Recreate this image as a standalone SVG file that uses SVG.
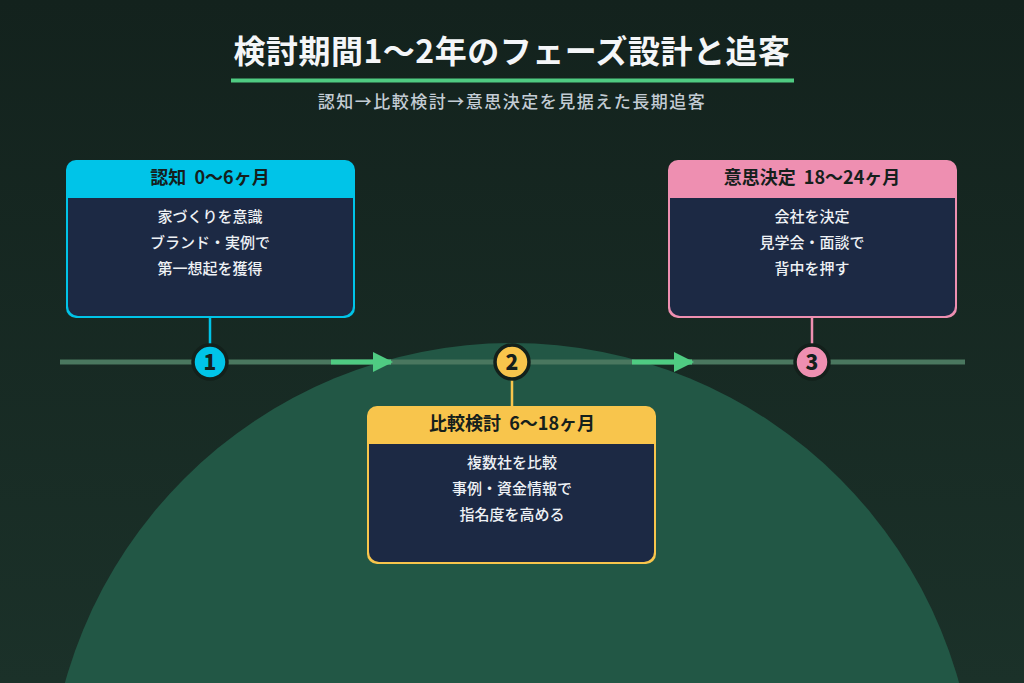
<svg xmlns="http://www.w3.org/2000/svg" width="1024" height="683" viewBox="0 0 1024 683">
<defs>
<linearGradient id="bg" x1="0" y1="0" x2="0" y2="1">
<stop offset="0" stop-color="#13221d"/>
<stop offset="1" stop-color="#1b3129"/>
</linearGradient>
<marker id="ah" viewBox="0 0 10 10" refX="9" refY="5" markerWidth="4" markerHeight="5" markerUnits="strokeWidth" orient="auto">
<path d="M0,0 L10,5 L0,10 Z" fill="#4fcb82"/>
</marker>
<style>
text{white-space:pre}
.title{font-family:"Noto Sans CJK JP","Noto Sans",sans-serif;font-weight:700;font-size:32px;letter-spacing:0.5px;fill:#f4f6f8;text-anchor:middle}
.sub{font-family:"Noto Sans CJK JP","Noto Sans",sans-serif;font-weight:500;font-size:17px;letter-spacing:1.5px;fill:#c3ccd4;text-anchor:middle}
.body{fill:#1c2944}
.head{font-family:"Noto Sans CJK JP","Noto Sans",sans-serif;font-weight:700;font-size:18px;fill:#15201c;text-anchor:middle}
.line{font-family:"Noto Sans CJK JP","Noto Sans",sans-serif;font-weight:500;font-size:15px;fill:#eef1f5;text-anchor:middle}
.num{font-family:"Noto Sans CJK JP","Noto Sans",sans-serif;font-weight:900;font-size:21px;fill:#15201c;text-anchor:middle}
.dot{stroke:#13201b;stroke-width:3.5}
</style>
</defs>
<rect width="1024" height="683" fill="url(#bg)"/>
<circle cx="512" cy="807" r="464" fill="#225745"/>

<text class="title" x="512" y="63" xml:space="preserve">検討期間1〜2年のフェーズ設計と追客</text>
<rect x="231" y="78.5" width="563" height="4" fill="#4fcb82"/>
<text class="sub" x="512" y="108">認知→比較検討→意思決定を見据えた長期追客</text>

<g id="connectors">
<line x1="60" y1="362" x2="965" y2="362" stroke="#4a775f" stroke-width="5"/>
<line x1="331" y1="362" x2="391" y2="362" stroke="#4fcb82" stroke-width="5" marker-end="url(#ah)"/>
<line x1="632" y1="362" x2="692" y2="362" stroke="#4fcb82" stroke-width="5" marker-end="url(#ah)"/>
<line x1="210" y1="318" x2="210" y2="346" stroke="#00c4e8" stroke-width="2.5"/>
<line x1="512" y1="378" x2="512" y2="406" stroke="#f8c54c" stroke-width="2.5"/>
<line x1="812" y1="318" x2="812" y2="346" stroke="#ee8fb1" stroke-width="2.5"/>
</g>

<g id="marker1">
<circle class="dot" cx="210" cy="362" r="17" fill="#00c4e8"/>
<text class="num" x="210" y="369.5">1</text>
</g>
<g id="marker2">
<circle class="dot" cx="512" cy="362" r="17" fill="#f8c54c"/>
<text class="num" x="512" y="369.5">2</text>
</g>
<g id="marker3">
<circle class="dot" cx="812" cy="362" r="17" fill="#ee8fb1"/>
<text class="num" x="812" y="369.5">3</text>
</g>

<g id="card1">
<rect x="66" y="160" width="289" height="158" rx="10" fill="#00c4e8"/>
<path class="body" d="M68,198 H353 V306 A10,10 0 0 1 343,316 H78 A10,10 0 0 1 68,306 Z"/>
<text class="head" x="210" y="183.5" xml:space="preserve">認知  0〜6ヶ月</text>
<text class="line" x="210" y="222">家づくりを意識</text>
<text class="line" x="210" y="248">ブランド・実例で</text>
<text class="line" x="210" y="274">第一想起を獲得</text>
</g>

<g id="card2">
<rect x="367" y="406" width="289" height="158" rx="10" fill="#f8c54c"/>
<path class="body" d="M369,444 H654 V552 A10,10 0 0 1 644,562 H379 A10,10 0 0 1 369,552 Z"/>
<text class="head" x="512" y="429.5" xml:space="preserve">比較検討  6〜18ヶ月</text>
<text class="line" x="512" y="468">複数社を比較</text>
<text class="line" x="512" y="494">事例・資金情報で</text>
<text class="line" x="512" y="520">指名度を高める</text>
</g>

<g id="card3">
<rect x="668" y="160" width="289" height="158" rx="10" fill="#ee8fb1"/>
<path class="body" d="M670,198 H955 V306 A10,10 0 0 1 945,316 H680 A10,10 0 0 1 670,306 Z"/>
<text class="head" x="812" y="183.5" xml:space="preserve">意思決定  18〜24ヶ月</text>
<text class="line" x="812" y="222">会社を決定</text>
<text class="line" x="812" y="248">見学会・面談で</text>
<text class="line" x="812" y="274">背中を押す</text>
</g>
</svg>
